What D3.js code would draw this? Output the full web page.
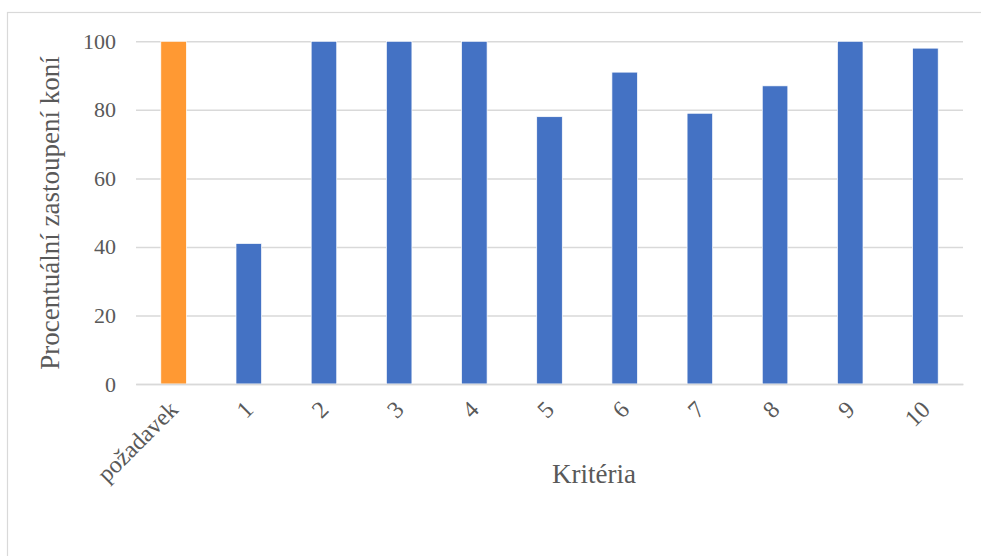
<!DOCTYPE html>
<html><head><meta charset="utf-8">
<script src="https://cdn.jsdelivr.net/npm/d3@7"></script>
<style>html,body{margin:0;padding:0;background:#fff;}</style>
</head><body>
<svg id="c" width="981" height="556"></svg>
<script>
const categories = ["požadavek","1","2","3","4","5","6","7","8","9","10"];
const values = [100,41,100,100,100,78,91,79,87,100,98];
const highlight = ["požadavek"];
const yTicks = [0,20,40,60,80,100];
const yTitle = "Procentuální zastoupení koní";
const xTitle = "Kritéria";

const svg = d3.select("#c");
const font = "'Liberation Serif','Times New Roman',serif";
const textCol = "#595959";
const grid = "#d9d9d9";

svg.append("rect").attr("x",7.5).attr("y",12.5).attr("width",1000).attr("height",600)
  .attr("fill","#fff").attr("stroke","#d9d9d9").attr("stroke-width",1.2);

const m = {l:136, r:963, t:41.3, b:384};
const x = d3.scaleBand().domain(categories).range([m.l,m.r]).paddingInner(0.66).paddingOuter(0.33);
const y = d3.scaleLinear().domain([0,100]).range([m.b,m.t]);

const gy = svg.append("g").attr("transform",`translate(${m.l},0)`)
  .call(d3.axisLeft(y).tickValues(yTicks).tickSize(-(m.r-m.l)).tickPadding(20));
gy.select(".domain").remove();
gy.selectAll(".tick line").attr("stroke",grid).attr("stroke-width",1.5);
gy.selectAll(".tick text").attr("font-family",font).attr("font-size",22).attr("fill",textCol);

svg.append("g").selectAll("rect").data(categories).join("rect")
  .attr("x",d=>x(d)).attr("width",x.bandwidth())
  .attr("y",(d,i)=>y(values[i])).attr("height",(d,i)=>y(0)-y(values[i]))
  .attr("fill",d=>highlight.includes(d)?"#FF9933":"#4472C4")
  .attr("stroke","#fff").attr("stroke-width",0.7);

const gx = svg.append("g").attr("transform",`translate(0,${m.b})`)
  .call(d3.axisBottom(x).tickSize(0).tickPadding(0));
gx.select(".domain").attr("stroke",grid).attr("stroke-width",1.5);
gx.selectAll(".tick text").attr("font-family",font).attr("font-size",24).attr("fill",textCol)
  .attr("text-anchor","end").attr("dy",0)
  .attr("transform","translate(6,27) rotate(-45)");

svg.append("text").attr("transform","translate(59,213) rotate(-90)")
  .attr("text-anchor","middle").attr("font-family",font).attr("font-size",27).attr("fill",textCol)
  .text(yTitle);
svg.append("text").attr("x",594).attr("y",483)
  .attr("text-anchor","middle").attr("font-family",font).attr("font-size",27).attr("fill",textCol)
  .text(xTitle);
</script>
</body></html>
